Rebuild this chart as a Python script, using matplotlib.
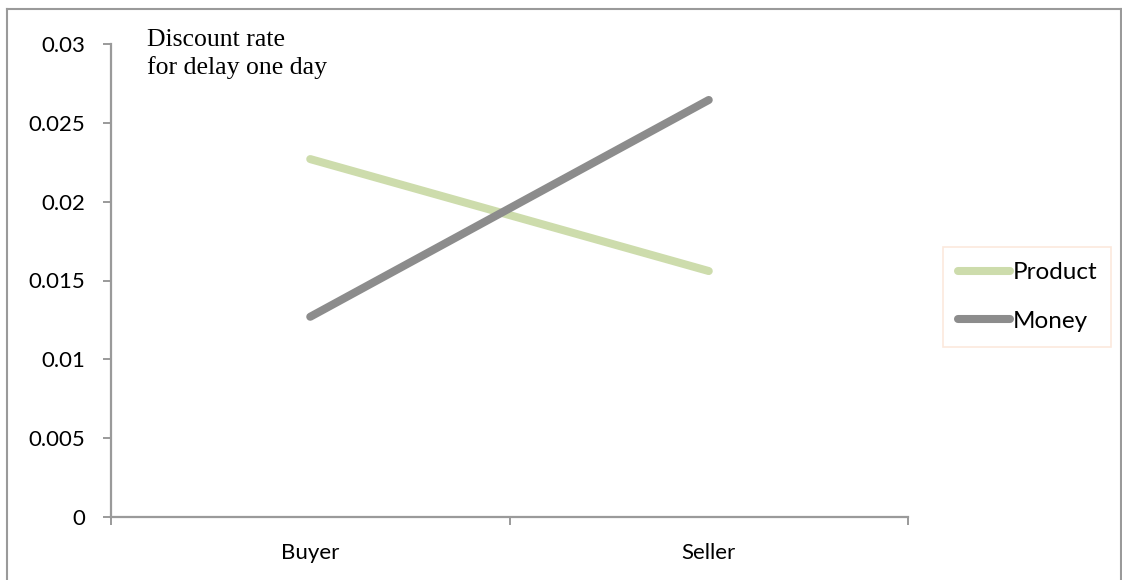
import matplotlib
matplotlib.use("Agg")
import matplotlib.pyplot as plt
from matplotlib.lines import Line2D

categories = ["Buyer", "Seller"]
product = [0.0227, 0.0156]
money = [0.0127, 0.02645]
yticks = [0, 0.005, 0.01, 0.015, 0.02, 0.025, 0.03]
ytick_labels = ["0", "0.005", "0.01", "0.015", "0.02", "0.025", "0.03"]

W, H = 1122, 580
fig = plt.figure(figsize=(W / 100, H / 100), dpi=100)
fig.patch.set_facecolor("white")

axis_col = "#9a9a9a"
ax = fig.add_axes([111 / W, (H - 517) / H, (908 - 111) / W, (517 - 44) / H])
x = list(range(len(categories)))
ax.plot(x, product, color="#cddcac", lw=5.8, solid_capstyle="round", label="Product")
ax.plot(x, money, color="#8c8c8c", lw=5.8, solid_capstyle="round", label="Money")

ax.set_xlim(-0.5, len(categories) - 0.5)
ax.set_ylim(0, 0.03)
ax.set_yticks(yticks)
ax.set_yticklabels(ytick_labels, family="Lato", fontsize=16)
ax.set_xticks([-0.5, 0.5, 1.5])
ax.set_xticklabels([])
ax.set_xticks(x, minor=True)
ax.set_xticklabels(categories, minor=True, family="Lato", fontsize=16)
ax.tick_params(axis="x", which="minor", length=0, pad=19)
ax.tick_params(axis="x", which="major", length=6, width=1.4, color=axis_col, direction="out")
ax.tick_params(axis="y", length=5.5, width=1.4, color=axis_col, direction="out", pad=13)
for s in ["top", "right"]:
    ax.spines[s].set_visible(False)
for s in ["left", "bottom"]:
    ax.spines[s].set_color(axis_col)
    ax.spines[s].set_linewidth(1.6)

fig.text(147 / W, 1 - 54 / H, "Discount rate\nfor delay one day", family="Liberation Serif",
         fontsize=18.5, va="center", ha="left", linespacing=1.32)

# legend
handles = [Line2D([], [], color="#cddcac", lw=5.8, solid_capstyle="round"),
           Line2D([], [], color="#8c8c8c", lw=5.8, solid_capstyle="round")]
leg = fig.legend(handles, ["Product", "Money"], loc="center left",
                 bbox_to_anchor=(943 / W, 1 - 297 / H), prop={"family": "Lato", "size": 17.5},
                 frameon=True, fancybox=False, edgecolor="#fbe3d4", handlelength=2.15,
                 handletextpad=0.1, labelspacing=1.15, borderpad=0.6, borderaxespad=0)
leg.get_frame().set_linewidth(1.2)

# outer border
b = dict(color="#9a9a9a", lw=1.5, transform=fig.transFigure)
fig.add_artist(Line2D([7 / W, 7 / W], [0, 1 - 9 / H], **b))
fig.add_artist(Line2D([7 / W, 1121 / W], [1 - 9 / H, 1 - 9 / H], **b))
fig.add_artist(Line2D([1121 / W, 1121 / W], [0, 1 - 9 / H], **b))

fig.savefig("out.png", dpi=100)
